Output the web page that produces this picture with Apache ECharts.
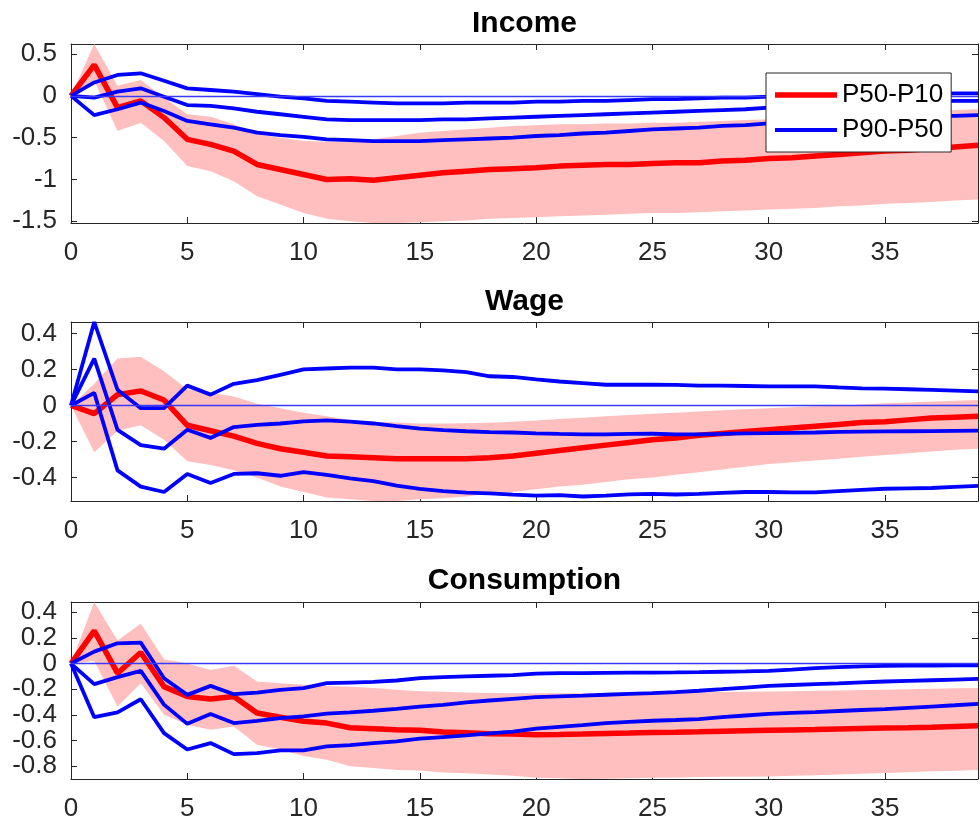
<!DOCTYPE html>
<html>
<head>
<meta charset="utf-8">
<script src="https://cdn.jsdelivr.net/npm/echarts@6/dist/echarts.min.js"></script>
<style>
  html, body { margin: 0; padding: 0; background: #fff; }
  #chart { width: 980px; height: 830px; }
</style>
</head>
<body>
<div id="chart"></div>
<script>
// Horizon (periods after the shock)
const steps = [0,1,2,3,4,5,6,7,8,9,10,11,12,13,14,15,16,17,18,19,20,21,22,23,24,25,26,27,28,29,30,31,32,33,34,35,36,37,38,39];
const xTicks = [0,5,10,15,20,25,30,35];

// Panel titles
const panelTitles = ['Income', 'Wage', 'Consumption'];

// ---------- Income ----------
const incomeP5010 = [0,0.37,-0.14,-0.06,-0.26,-0.52,-0.58,-0.66,-0.82,-0.88,-0.94,-1.0,-0.99,-1.01,-0.98,-0.95,-0.92,-0.9,-0.88,-0.87,-0.86,-0.84,-0.83,-0.82,-0.82,-0.81,-0.80,-0.80,-0.78,-0.77,-0.75,-0.74,-0.72,-0.70,-0.68,-0.66,-0.65,-0.63,-0.61,-0.59];
const incomeP5010Upper = [0,0.62,0.12,0.19,-0.02,-0.22,-0.25,-0.34,-0.46,-0.5,-0.54,-0.55,-0.55,-0.52,-0.48,-0.44,-0.42,-0.40,-0.38,-0.36,-0.35,-0.34,-0.34,-0.33,-0.33,-0.32,-0.32,-0.31,-0.30,-0.29,-0.28,-0.27,-0.26,-0.25,-0.23,-0.22,-0.21,-0.19,-0.17,-0.16];
const incomeP5010Lower = [0,0.18,-0.42,-0.32,-0.54,-0.84,-0.9,-1.02,-1.2,-1.3,-1.4,-1.47,-1.5,-1.52,-1.52,-1.51,-1.5,-1.49,-1.47,-1.46,-1.45,-1.44,-1.43,-1.42,-1.41,-1.40,-1.40,-1.39,-1.38,-1.37,-1.36,-1.35,-1.34,-1.32,-1.31,-1.29,-1.28,-1.27,-1.25,-1.24];
const incomeP9050 = [0,-0.02,0.05,0.09,-0.01,-0.11,-0.12,-0.15,-0.19,-0.22,-0.25,-0.28,-0.29,-0.29,-0.29,-0.29,-0.28,-0.28,-0.27,-0.26,-0.25,-0.24,-0.23,-0.22,-0.21,-0.20,-0.19,-0.18,-0.17,-0.16,-0.14,-0.13,-0.12,-0.11,-0.10,-0.08,-0.07,-0.07,-0.06,-0.06];
const incomeP9050Upper = [0,0.16,0.25,0.27,0.18,0.09,0.07,0.05,0.02,-0.01,-0.03,-0.06,-0.07,-0.08,-0.09,-0.09,-0.09,-0.08,-0.08,-0.08,-0.07,-0.07,-0.06,-0.06,-0.05,-0.04,-0.04,-0.03,-0.02,-0.02,-0.01,0.0,0.0,0.01,0.01,0.02,0.02,0.02,0.03,0.03];
const incomeP9050Lower = [0,-0.23,-0.16,-0.08,-0.18,-0.3,-0.34,-0.38,-0.44,-0.47,-0.49,-0.52,-0.53,-0.54,-0.54,-0.54,-0.53,-0.52,-0.51,-0.50,-0.48,-0.47,-0.45,-0.44,-0.42,-0.40,-0.39,-0.38,-0.36,-0.35,-0.33,-0.32,-0.31,-0.29,-0.28,-0.26,-0.25,-0.24,-0.24,-0.23];
const incomeTicks = [-1.5,-1,-0.5,0,0.5];

// ---------- Wage ----------
const wageP5010 = [0,-0.045,0.06,0.08,0.03,-0.11,-0.14,-0.17,-0.21,-0.24,-0.26,-0.28,-0.285,-0.29,-0.295,-0.295,-0.295,-0.295,-0.29,-0.28,-0.265,-0.25,-0.235,-0.22,-0.205,-0.19,-0.18,-0.165,-0.155,-0.145,-0.135,-0.125,-0.115,-0.105,-0.095,-0.09,-0.08,-0.07,-0.065,-0.06];
const wageP5010Upper = [0,0.12,0.26,0.27,0.19,0.09,0.07,0.05,0.01,-0.015,-0.04,-0.06,-0.08,-0.09,-0.095,-0.1,-0.1,-0.098,-0.096,-0.09,-0.083,-0.075,-0.068,-0.06,-0.053,-0.046,-0.04,-0.033,-0.027,-0.021,-0.015,-0.01,-0.005,0.0,0.006,0.012,0.017,0.022,0.026,0.03];
const wageP5010Lower = [0,-0.26,-0.14,-0.11,-0.19,-0.31,-0.33,-0.36,-0.40,-0.45,-0.48,-0.51,-0.52,-0.53,-0.53,-0.52,-0.515,-0.505,-0.49,-0.48,-0.465,-0.45,-0.44,-0.425,-0.41,-0.40,-0.385,-0.37,-0.355,-0.34,-0.325,-0.315,-0.305,-0.295,-0.285,-0.275,-0.265,-0.255,-0.245,-0.24];
const wageP9050 = [0,0.26,-0.135,-0.22,-0.24,-0.135,-0.18,-0.12,-0.108,-0.1,-0.088,-0.083,-0.09,-0.1,-0.115,-0.128,-0.137,-0.143,-0.148,-0.15,-0.155,-0.158,-0.16,-0.16,-0.158,-0.157,-0.16,-0.16,-0.158,-0.155,-0.154,-0.152,-0.15,-0.147,-0.145,-0.144,-0.143,-0.142,-0.141,-0.14];
const wageP9050Upper = [0,0.463,0.087,-0.015,-0.015,0.11,0.06,0.12,0.14,0.17,0.2,0.205,0.21,0.21,0.2,0.2,0.195,0.185,0.162,0.158,0.145,0.133,0.124,0.115,0.115,0.115,0.114,0.11,0.11,0.108,0.106,0.106,0.106,0.1,0.095,0.093,0.09,0.086,0.082,0.078];
const wageP9050Lower = [0,0.07,-0.36,-0.45,-0.48,-0.38,-0.43,-0.38,-0.376,-0.39,-0.37,-0.385,-0.405,-0.42,-0.445,-0.463,-0.475,-0.483,-0.488,-0.495,-0.5,-0.497,-0.505,-0.5,-0.493,-0.49,-0.494,-0.49,-0.485,-0.48,-0.48,-0.482,-0.482,-0.475,-0.468,-0.462,-0.46,-0.458,-0.452,-0.446];
const wageTicks = [-0.4,-0.2,0,0.2,0.4];

// ---------- Consumption ----------
const consP5010 = [0,0.255,-0.075,0.086,-0.18,-0.257,-0.277,-0.257,-0.386,-0.418,-0.45,-0.464,-0.5,-0.508,-0.516,-0.52,-0.534,-0.54,-0.547,-0.55,-0.555,-0.553,-0.55,-0.546,-0.542,-0.537,-0.535,-0.532,-0.528,-0.524,-0.52,-0.517,-0.514,-0.51,-0.506,-0.503,-0.5,-0.496,-0.49,-0.485];
const consP5010Upper = [0,0.48,0.18,0.31,0.034,0.0,-0.05,-0.018,-0.14,-0.153,-0.166,-0.174,-0.18,-0.19,-0.205,-0.215,-0.22,-0.226,-0.23,-0.232,-0.232,-0.232,-0.231,-0.23,-0.228,-0.226,-0.225,-0.224,-0.222,-0.22,-0.218,-0.215,-0.212,-0.21,-0.207,-0.205,-0.2,-0.197,-0.193,-0.19];
const consP5010Lower = [0,0.02,-0.335,-0.153,-0.4,-0.477,-0.516,-0.49,-0.633,-0.67,-0.72,-0.75,-0.8,-0.815,-0.83,-0.833,-0.85,-0.855,-0.865,-0.875,-0.89,-0.895,-0.9,-0.898,-0.895,-0.89,-0.888,-0.885,-0.883,-0.882,-0.88,-0.875,-0.87,-0.865,-0.86,-0.853,-0.847,-0.84,-0.835,-0.83];
const consP9050 = [0,-0.16,-0.106,-0.057,-0.32,-0.47,-0.394,-0.464,-0.446,-0.425,-0.412,-0.39,-0.38,-0.368,-0.353,-0.335,-0.322,-0.303,-0.288,-0.275,-0.262,-0.256,-0.25,-0.243,-0.237,-0.231,-0.222,-0.212,-0.2,-0.187,-0.174,-0.167,-0.16,-0.154,-0.147,-0.14,-0.135,-0.13,-0.125,-0.12];
const consP9050Upper = [0,0.093,0.158,0.163,-0.114,-0.244,-0.174,-0.239,-0.226,-0.205,-0.192,-0.153,-0.148,-0.143,-0.132,-0.114,-0.106,-0.1,-0.095,-0.09,-0.078,-0.075,-0.074,-0.072,-0.071,-0.07,-0.069,-0.067,-0.064,-0.061,-0.057,-0.048,-0.036,-0.028,-0.022,-0.018,-0.016,-0.015,-0.014,-0.013];
const consP9050Lower = [0,-0.418,-0.38,-0.278,-0.542,-0.67,-0.62,-0.706,-0.698,-0.677,-0.677,-0.646,-0.636,-0.62,-0.607,-0.586,-0.573,-0.56,-0.545,-0.53,-0.508,-0.494,-0.48,-0.464,-0.455,-0.446,-0.44,-0.433,-0.418,-0.405,-0.392,-0.385,-0.378,-0.37,-0.362,-0.355,-0.345,-0.335,-0.325,-0.314];
const consTicks = [-0.8,-0.6,-0.4,-0.2,0,0.2,0.4];

// Legend entries
const legendNames = ['P50-P10', 'P90-P50'];

const panels = [
  { title: panelTitles[0], mid: incomeP5010, up: incomeP5010Upper, lo: incomeP5010Lower,
    b: incomeP9050, bUp: incomeP9050Upper, bLo: incomeP9050Lower, ticks: incomeTicks, min: -1.52, max: 0.62,
    top: 44, height: 179, titleTop: 9 },
  { title: panelTitles[1], mid: wageP5010, up: wageP5010Upper, lo: wageP5010Lower,
    b: wageP9050, bUp: wageP9050Upper, bLo: wageP9050Lower, ticks: wageTicks, min: -0.53, max: 0.463,
    top: 322, height: 179, titleTop: 287 },
  { title: panelTitles[2], mid: consP5010, up: consP5010Upper, lo: consP5010Lower,
    b: consP9050, bUp: consP9050Upper, bLo: consP9050Lower, ticks: consTicks, min: -0.9, max: 0.48,
    top: 602, height: 177, titleTop: 566 }
];

const FONT = 'Liberation Sans, Arial, Helvetica, sans-serif';
const AXIS_COLOR = '#262626';
const GRID_LEFT = 71;
const GRID_WIDTH = 907;
const RED_W = 5.5, BLUE_W = 3.8;

const pairs = vals => steps.map((s, i) => [s, vals[i]]);

// Shaded confidence band: one polygon through the upper edge and back along the lower edge
function renderBand(params, api) {
  if (params.dataIndexInside !== 0) return null;
  const n = params.dataInsideLength;
  const upper = [], lower = [];
  for (let k = 0; k < n; k++) {
    const x = api.value(0, k);
    upper.push(api.coord([x, api.value(2, k)]));
    lower.push(api.coord([x, api.value(1, k)]));
  }
  const cs = params.coordSys;
  return {
    type: 'polygon',
    shape: { points: upper.concat(lower.reverse()) },
    style: { fill: '#ffbfbf', stroke: null },
    clipPath: { type: 'rect', shape: { x: cs.x, y: cs.y, width: cs.width, height: cs.height } },
    silent: true
  };
}

const grid = [], xAxis = [], yAxis = [], series = [], title = [];

panels.forEach((p, i) => {
  grid.push({ left: GRID_LEFT, width: GRID_WIDTH, top: p.top, height: p.height });
  title.push({
    text: p.title, left: GRID_LEFT + GRID_WIDTH / 2, top: p.titleTop, textAlign: 'center', padding: 0,
    textStyle: { fontFamily: FONT, fontSize: 30, fontWeight: 'bold', color: '#000' }
  });

  const axisLine = { show: true, onZero: false, lineStyle: { color: AXIS_COLOR, width: 1 } };
  const tickStyle = { color: AXIS_COLOR, width: 1 };
  const labelStyle = {
    show: true, interval: 0, fontFamily: FONT, fontSize: 26, lineHeight: 18, color: AXIS_COLOR,
    hideOverlap: false, showMinLabel: true, showMaxLabel: true
  };

  // bottom and mirrored top x axes
  xAxis.push({
    type: 'value', gridIndex: i, min: 0, max: 39, position: 'bottom',
    axisLine, splitLine: { show: false },
    axisTick: { show: true, inside: true, length: 6, customValues: xTicks, lineStyle: tickStyle },
    axisLabel: Object.assign({}, labelStyle, { customValues: xTicks, margin: 21 })
  });
  xAxis.push({
    type: 'value', gridIndex: i, min: 0, max: 39, position: 'top',
    axisLine, splitLine: { show: false },
    axisTick: { show: true, inside: true, length: 6, customValues: xTicks, lineStyle: tickStyle },
    axisLabel: { show: false }
  });

  // Tick labels sit close together, so they are split over two stacked left axes
  const evenTicks = p.ticks.filter((v, k) => k % 2 === 0);
  const oddTicks = p.ticks.filter((v, k) => k % 2 === 1);

  // left (with ticks) and mirrored right y axes
  yAxis.push({
    type: 'value', gridIndex: i, min: p.min, max: p.max, position: 'left',
    axisLine, splitLine: { show: false },
    axisTick: { show: true, inside: true, length: 6, customValues: p.ticks, lineStyle: tickStyle },
    axisLabel: Object.assign({}, labelStyle, { customValues: evenTicks, margin: 14 })
  });
  yAxis.push({
    type: 'value', gridIndex: i, min: p.min, max: p.max, position: 'right',
    axisLine, splitLine: { show: false },
    axisTick: { show: true, inside: true, length: 6, customValues: p.ticks, lineStyle: tickStyle },
    axisLabel: { show: false }
  });
  yAxis.push({
    type: 'value', gridIndex: i, min: p.min, max: p.max, position: 'left', offset: 0,
    axisLine: { show: false }, axisTick: { show: false }, splitLine: { show: false },
    axisLabel: Object.assign({}, labelStyle, { customValues: oddTicks, margin: 14 })
  });

  const xi = 2 * i, yi = 3 * i;
  const base = { type: 'line', xAxisIndex: xi, yAxisIndex: yi, symbol: 'none', showSymbol: false, silent: true };

  // P50-P10 band
  series.push({
    type: 'custom', name: 'band-' + i, xAxisIndex: xi, yAxisIndex: yi, silent: true, z: 1,
    renderItem: renderBand,
    encode: { x: 0, y: [1, 2] },
    data: steps.map((s, k) => [s, p.lo[k], p.up[k]])
  });

  // P50-P10 point estimate
  series.push(Object.assign({}, base, {
    name: legendNames[0], data: pairs(p.mid), z: 3,
    lineStyle: { color: '#ff0000', width: RED_W }, itemStyle: { color: '#ff0000' }
  }));

  // P90-P50 estimate with its bounds
  [p.bUp, p.b, p.bLo].forEach((vals, j) => {
    const s = Object.assign({}, base, {
      name: j === 1 ? legendNames[1] : 'p9050-' + i + '-' + j, data: pairs(vals), z: 4,
      lineStyle: { color: '#0000ff', width: BLUE_W }, itemStyle: { color: '#0000ff' }
    });
    if (j === 2) {
      // zero reference line
      s.markLine = {
        silent: true, symbol: ['none', 'none'], label: { show: false },
        lineStyle: { color: '#3a3aff', width: 1.3, type: 'solid', opacity: 1 },
        emphasis: { disabled: true },
        data: [{ yAxis: 0 }]
      };
    }
    series.push(s);
  });
});

const chart = echarts.init(document.getElementById('chart'), null, { renderer: 'canvas' });
chart.setOption({
  animation: false,
  backgroundColor: '#fff',
  title,
  grid, xAxis, yAxis, series,
  legend: {
    z: 20,
    data: [
      { name: legendNames[0], icon: 'path://M0,0h62v5.5h-62z' },
      { name: legendNames[1], icon: 'path://M0,0h62v3.8h-62z' }
    ],
    orient: 'vertical', left: 766, top: 73,
    backgroundColor: '#fff', borderColor: AXIS_COLOR, borderWidth: 1,
    padding: [9, 8, 9, 9], itemGap: 9, itemWidth: 62, itemHeight: 26, selectedMode: false,
    textStyle: { fontFamily: FONT, fontSize: 26, color: '#000' }
  }
});
</script>
</body>
</html>
